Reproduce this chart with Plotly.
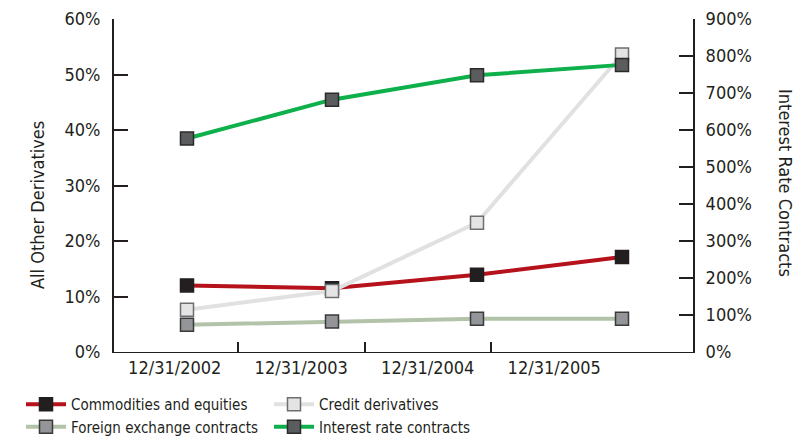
import plotly.graph_objects as go

# Year-end dates and series values (percent)
dates = ["12/31/2002", "12/31/2003", "12/31/2004", "12/31/2005"]
commodities = [12.0, 11.5, 13.9, 17.1]
credit = [7.6, 11.0, 23.3, 53.6]
fx = [4.9, 5.5, 6.0, 6.0]
interest = [577, 682, 748, 776]

left_ticks = [0, 10, 20, 30, 40, 50, 60]
right_ticks = [0, 100, 200, 300, 400, 500, 600, 700, 800, 900]

FONT = "DejaVu Sans Condensed"
INK = "#231f20"
W, H = 804, 444
ML, MR, MT, MB = 114, 111, 19, 92
plot_w = W - ML - MR
plot_h = H - MT - MB

x = list(range(len(dates)))

fig = go.Figure()

def add(name, y, line_color, fill, border, axis, legend):
    fig.add_trace(go.Scatter(
        x=x, y=y, name=name, mode="lines+markers", yaxis=axis, legend=legend,
        line=dict(color=line_color, width=4),
        marker=dict(symbol="square", size=13, color=fill,
                    line=dict(color=border, width=1.5)),
        hoverinfo="skip",
    ))

add("Credit derivatives", credit, "#e1e1e1", "#e4e4e4", "#6d6e71", "y", "legend2")
add("Foreign exchange contracts", fx, "#b3c3aa", "#939598", "#3a3a3a", "y", "legend")
add("Commodities and equities", commodities, "#b5121b", "#231f20", "#231f20", "y", "legend")
add("Interest rate contracts", interest, "#0db04b", "#5b5c5e", "#2a2a2a", "y2", "legend2")

# legend order: column one / column two
fig.data = (fig.data[2], fig.data[1], fig.data[0], fig.data[3])

bin_w = 126.5
lab0 = (ML - 111.5) / bin_w
lab_range = [lab0, lab0 + plot_w / bin_w]
dat0 = -(187 - ML) / 145.0
dat_range = [dat0, dat0 + plot_w / 145.0]

tickfont = dict(family=FONT, size=18, color=INK)
legfont = dict(family=FONT, size=15, color=INK)

def px_x(p):
    return (p - ML) / plot_w

def px_y(p):
    return (H - MB - p) / plot_h

fig.update_layout(
    width=W, height=H,
    margin=dict(l=ML, r=MR, t=MT, b=MB, pad=0, autoexpand=False),
    paper_bgcolor="white", plot_bgcolor="white",
    showlegend=True,
    xaxis=dict(range=dat_range, showgrid=False, zeroline=False,
               showticklabels=False, ticks="", showline=True,
               linecolor=INK, linewidth=1),
    xaxis2=dict(overlaying="x", side="bottom", range=lab_range,
                tickvals=[i + 0.5 for i in range(len(dates))], ticktext=dates,
                ticks="", showgrid=False, zeroline=False, showline=False,
                tickfont=tickfont, ticklabelstandoff=3),
    xaxis3=dict(overlaying="x", side="bottom", range=lab_range,
                tickvals=[1, 2, 3], ticks="inside", ticklen=10, tickwidth=1.5,
                tickcolor=INK, showticklabels=False, showgrid=False,
                zeroline=False, showline=False),
    yaxis=dict(range=[0, 60], tickvals=left_ticks,
               ticktext=[f"{v}%" for v in left_ticks],
               ticks="inside", ticklen=14, tickwidth=1.5, tickcolor=INK,
               showline=True, linecolor=INK, linewidth=2,
               showgrid=False, zeroline=False, tickfont=tickfont,
               ticklabelstandoff=8),
    yaxis2=dict(range=[0, 900], overlaying="y", side="right",
                tickvals=right_ticks, ticktext=[f"{v}%" for v in right_ticks],
                ticks="inside", ticklen=14, tickwidth=1.5, tickcolor=INK,
                showline=True, linecolor=INK, linewidth=2,
                showgrid=False, zeroline=False, tickfont=tickfont,
                ticklabelstandoff=7),
    legend=dict(xref="container", yref="container",
                x=21 / W, y=1 - 388 / H, xanchor="left", yanchor="top",
                orientation="v", font=legfont,
                tracegroupgap=0, itemwidth=40, bgcolor="rgba(0,0,0,0)"),
    legend2=dict(xref="container", yref="container",
                 x=269 / W, y=1 - 388 / H, xanchor="left", yanchor="top",
                 orientation="v", font=legfont,
                 tracegroupgap=0, itemwidth=40, bgcolor="rgba(0,0,0,0)"),
    annotations=[
        dict(text="All Other Derivatives", xref="paper", yref="paper",
             x=px_x(37), y=px_y(205), xanchor="center", yanchor="middle",
             textangle=-90, showarrow=False,
             font=dict(family=FONT, size=18, color=INK)),
        dict(text="Interest Rate Contracts", xref="paper", yref="paper",
             x=px_x(786), y=px_y(183), xanchor="center", yanchor="middle",
             textangle=90, showarrow=False,
             font=dict(family=FONT, size=18, color=INK)),
    ],
)

# empty traces that activate the overlay axes for labels and tick marks
fig.add_trace(go.Scatter(x=[None], y=[None], xaxis="x2", showlegend=False, hoverinfo="skip"))
fig.add_trace(go.Scatter(x=[None], y=[None], xaxis="x3", showlegend=False, hoverinfo="skip"))

fig.write_html("out.html")
